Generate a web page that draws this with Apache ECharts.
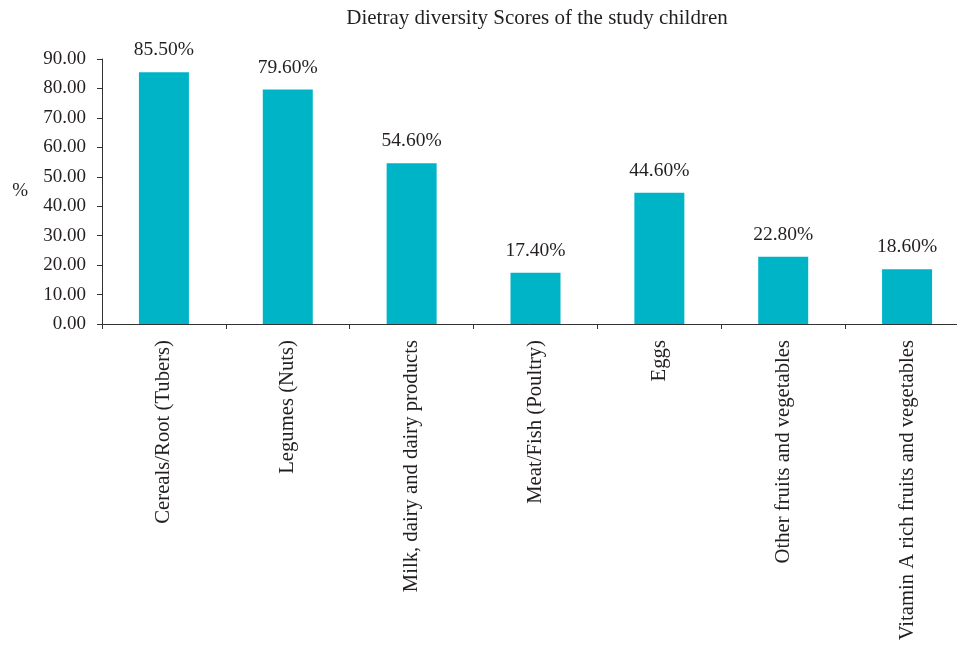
<!DOCTYPE html>
<html><head><meta charset="utf-8">
<script src="https://cdn.jsdelivr.net/npm/echarts@6/dist/echarts.min.js"></script>
<style>html,body{margin:0;padding:0;background:#fff}#c{width:957px;height:648px}</style>
</head><body><div id="c"></div>
<script>
const categories = ["Cereals/Root (Tubers)", "Legumes (Nuts)", "Milk, dairy and dairy products", "Meat/Fish (Poultry)", "Eggs", "Other fruits and vegetables", "Vitamin A rich fruits and vegetables"];
const values = [85.5, 79.6, 54.6, 17.4, 44.6, 22.8, 18.6];
const yTicks = [0, 10, 20, 30, 40, 50, 60, 70, 80, 90];

const font = '"Liberation Serif", "DejaVu Serif", serif';
const chart = echarts.init(document.getElementById('c'), null, {renderer: 'canvas'});
chart.setOption({
  animation: false,
  title: {
    text: 'Dietray diversity Scores of the study children',
    left: 532, top: 3, textAlign: 'center',
    textStyle: {fontFamily: font, fontSize: 21, fontWeight: 'normal', color: '#231f20'}
  },
  grid: {left: 102, top: 59, width: 867, height: 265, containLabel: false, outerBoundsMode: 'none'},
  xAxis: {
    type: 'category', data: categories,
    axisLine: {lineStyle: {color: '#333', width: 1}},
    axisTick: {show: true, length: 5, lineStyle: {color: '#333'}},
    axisLabel: {rotate: 90, margin: 16, fontFamily: font, fontSize: 20.7, color: '#231f20', interval: 0}
  },
  yAxis: {
    type: 'value', min: yTicks[0], max: yTicks[yTicks.length - 1], interval: 10,
    name: '%', nameLocation: 'middle', nameRotate: 0, nameGap: 74,
    nameTextStyle: {fontFamily: font, fontSize: 19, color: '#231f20'},
    axisLine: {show: true, lineStyle: {color: '#333', width: 1}},
    axisTick: {show: true, length: 5, lineStyle: {color: '#333'}},
    splitLine: {show: false},
    axisLabel: {margin: 16, fontFamily: font, fontSize: 19, color: '#231f20', formatter: v => v.toFixed(2)}
  },
  series: [{
    type: 'bar', data: values, barWidth: 50,
    itemStyle: {color: '#00B4C8'},
    label: {show: true, position: 'top', distance: 12, fontFamily: font, fontSize: 19.5, color: '#231f20',
      formatter: p => p.value.toFixed(2) + '%'}
  }]
});
</script></body></html>
